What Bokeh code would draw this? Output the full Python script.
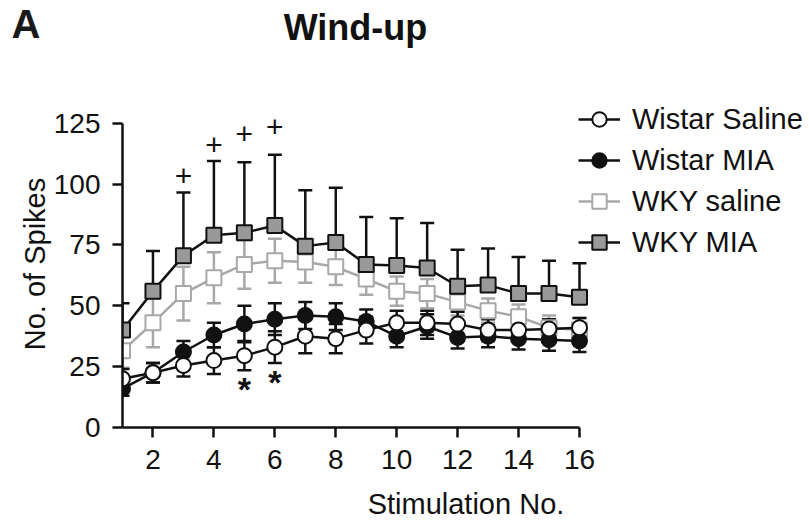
from bokeh.plotting import figure
from bokeh.layouts import column
from bokeh.models import FixedTicker, Legend, LegendItem, Label, ColumnDataSource
from bokeh.core.properties import value
from bokeh.embed import file_html
from bokeh.resources import INLINE

# ---------------- data ----------------
stim = list(range(1, 17))

wistar_saline = [20, 22.5, 25.5, 27.5, 29.5, 33, 37.5, 36.5, 40, 43, 43, 42.5, 40, 40, 40.5, 41]
wistar_saline_sem = [4, 4, 4.5, 5.5, 6, 6.5, 7, 6, 5.5, 5, 5, 5, 4.5, 4.5, 4, 4]

wistar_mia = [16, 22.5, 31, 38, 42.5, 44.5, 46, 45.5, 43.5, 37.5, 41.5, 37, 37.5, 36.5, 36, 35.5]
wistar_mia_sem = [3, 4, 4.5, 5, 7.5, 6.5, 5.5, 5.5, 5, 4.5, 5, 4.5, 4.5, 4.5, 4.5, 4.5]

wky_saline = [31.5, 43, 55, 61.5, 67, 68.5, 68, 66, 61, 56, 55, 51.5, 48, 45.5, 41, 40]
wky_saline_sem = [7, 10, 11, 10.5, 10, 9, 8.5, 7.5, 6.5, 6, 6, 5.5, 5, 5, 5, 5]

wky_mia = [40, 56, 70.5, 79, 80, 83, 74.5, 76, 67, 66.5, 65.5, 58, 58.5, 55, 55, 53.5]
wky_mia_sem = [11, 16.5, 26, 30.5, 29, 29, 23, 22.5, 19.5, 19.5, 18.5, 15, 15, 15, 13.5, 14]

plus_stims = [3, 4, 5, 6]              # "+" significance marks (WKY MIA)
plus_levels = [103.5, 116, 120.5, 123.5]
star_stims = [5, 6]                    # "*" significance marks (Wistar MIA)

x_ticks = [2, 4, 6, 8, 10, 12, 14, 16]
y_ticks = [0, 25, 50, 75, 100, 125]

FONT = "Liberation Sans"
BLACK = "#111111"
LIGHT = "#a8a8a8"
MID = "#999999"

# ---------------- header (panel letter + title) ----------------
head = figure(width=809, height=100, x_range=(0, 1), y_range=(0, 1),
              output_backend="svg", toolbar_location=None,
              x_axis_location=None, title=None,
              min_border_left=122, min_border_right=0, min_border_top=0, min_border_bottom=0)
head.outline_line_color = None
head.xgrid.visible = False
head.ygrid.visible = False
hy = head.yaxis[0]
hy.ticker = FixedTicker(ticks=[0.768])
hy.major_label_overrides = {0.768: "A"}
hy.axis_line_color = None
hy.major_tick_line_color = None
hy.minor_tick_line_color = None
hy.major_tick_out = 0
hy.major_tick_in = 0
hy.major_label_standoff = 82
hy.major_label_text_font = FONT
hy.major_label_text_font_size = "40px"
hy.major_label_text_font_style = "bold"
hy.major_label_text_color = "#1a1a1a"
head.add_layout(Label(x=233, y=73, x_units="screen", y_units="screen", text="Wind-up",
                      text_font=FONT, text_font_size="36px", text_font_style="bold",
                      text_color=BLACK, text_align="center", text_baseline="alphabetic"))

# ---------------- main plot ----------------
p = figure(width=809, height=423, x_range=(1, 23.55), y_range=(0, 134.32),
           output_backend="svg", toolbar_location=None, title=None,
           min_border_left=122, min_border_right=0,
           min_border_top=0, min_border_bottom=96)
p.outline_line_color = None
p.xgrid.visible = False
p.ygrid.visible = False

for ax in (p.xaxis[0], p.yaxis[0]):
    ax.axis_line_color = BLACK
    ax.axis_line_width = 2.5
    ax.major_tick_line_color = BLACK
    ax.major_tick_line_width = 2.5
    ax.major_tick_out = 10
    ax.major_tick_in = 0
    ax.minor_tick_line_color = None
    ax.major_label_text_font = FONT
    ax.major_label_text_font_size = "28px"
    ax.major_label_text_color = BLACK
    ax.axis_label_text_font = FONT
    ax.axis_label_text_font_size = "29px"
    ax.axis_label_text_font_style = "normal"
    ax.axis_label_text_color = BLACK

p.xaxis[0].ticker = FixedTicker(ticks=x_ticks)
p.yaxis[0].ticker = FixedTicker(ticks=y_ticks)
p.xaxis[0].bounds = (1, 16)
p.yaxis[0].bounds = (0, 125)
p.xaxis[0].axis_label = "Stimulation No."
p.yaxis[0].axis_label = "No. of Spikes"
p.xaxis[0].major_label_standoff = 12
p.yaxis[0].major_label_standoff = 12
p.xaxis[0].axis_label_standoff = 16
p.yaxis[0].axis_label_standoff = 0


def errorbars(mean, sem, color, up=True, down=True):
    lo = [m - s if down else m for m, s in zip(mean, sem)]
    hi = [m + s if up else m for m, s in zip(mean, sem)]
    p.segment(x0=stim, y0=lo, x1=stim, y1=hi, line_color=color, line_width=2.5)
    if up:
        p.scatter(x=stim, y=hi, marker="dash", size=14, line_color=color, line_width=2.5)
    if down:
        p.scatter(x=stim, y=lo, marker="dash", size=14, line_color=color, line_width=2.5)


# error bars first (behind the markers)
errorbars(wky_saline, wky_saline_sem, LIGHT)
errorbars(wky_mia, wky_mia_sem, BLACK, up=True, down=False)
errorbars(wistar_mia, wistar_mia_sem, BLACK)
errorbars(wistar_saline, wistar_saline_sem, BLACK)

# series
l_wkys = p.line(stim, wky_saline, line_color=LIGHT, line_width=2.5)
m_wkys = p.scatter(stim, wky_saline, marker="square", size=15, fill_color="white",
                   line_color=LIGHT, line_width=2)
l_wkym = p.line(stim, wky_mia, line_color=BLACK, line_width=2.5)
m_wkym = p.scatter(stim, wky_mia, marker="square", size=15, fill_color=MID,
                   line_color=BLACK, line_width=2)
l_wm = p.line(stim, wistar_mia, line_color=BLACK, line_width=2.5)
m_wm = p.scatter(stim, wistar_mia, marker="circle", size=15, fill_color=BLACK,
                 line_color=BLACK, line_width=2)
l_ws = p.line(stim, wistar_saline, line_color=BLACK, line_width=2.5)
m_ws = p.scatter(stim, wistar_saline, marker="circle", size=15, fill_color="white",
                 line_color=BLACK, line_width=2)

# significance marks
ws_low = {x: m - s for x, m, s in zip(stim, wistar_saline, wistar_saline_sem)}
plus_src = ColumnDataSource(dict(x=plus_stims, y=plus_levels, t=["+"] * len(plus_stims)))
star_src = ColumnDataSource(dict(x=star_stims, y=[ws_low[x] for x in star_stims],
                                 t=["*"] * len(star_stims)))
p.text(x="x", y="y", text="t", source=plus_src, text_align="center",
       text_baseline="middle", text_font=value(FONT),
       text_font_size="30px", text_color=BLACK)
p.text(x="x", y="y", text="t", source=star_src, text_align="center",
       text_baseline="middle", y_offset=19, text_font=value(FONT),
       text_font_size="34px", text_font_style="bold", text_color=BLACK)

legend = Legend(items=[
    LegendItem(label="Wistar Saline", renderers=[l_ws, m_ws]),
    LegendItem(label="Wistar MIA", renderers=[l_wm, m_wm]),
    LegendItem(label="WKY saline", renderers=[l_wkys, m_wkys]),
    LegendItem(label="WKY MIA", renderers=[l_wkym, m_wkym]),
], location=(456, 167))
legend.border_line_color = None
legend.background_fill_alpha = 0
legend.padding = 0
legend.margin = 0
legend.spacing = 5
legend.glyph_width = 42
legend.glyph_height = 36
legend.label_height = 36
legend.label_standoff = 12
legend.label_text_font = FONT
legend.label_text_font_size = "29px"
legend.label_text_color = BLACK
p.add_layout(legend)

layout = column(head, p, spacing=0)
open("out.html", "w").write(file_html(layout, INLINE))
